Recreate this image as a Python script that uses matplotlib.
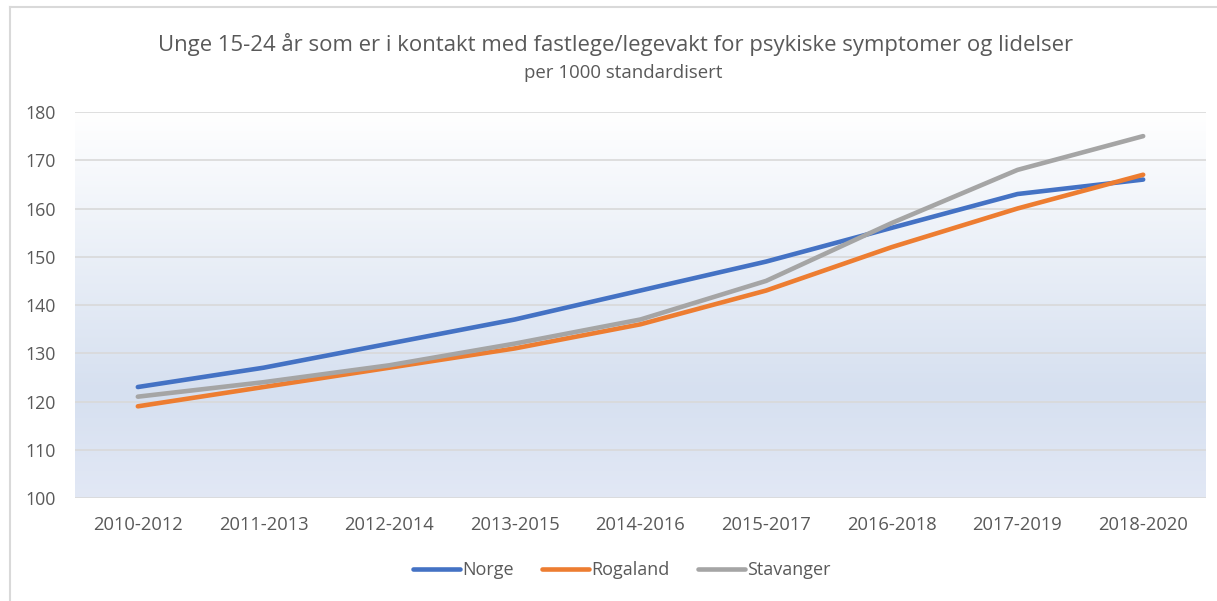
import matplotlib
matplotlib.use("Agg")
import matplotlib.pyplot as plt
import numpy as np
from matplotlib.lines import Line2D

categories = ["2010-2012", "2011-2013", "2012-2014", "2013-2015", "2014-2016",
              "2015-2017", "2016-2018", "2017-2019", "2018-2020"]
norge = [123, 127, 132, 137, 143, 149, 156, 163, 166]
rogaland = [119, 123, 127, 131, 136, 143, 152, 160, 167]
stavanger = [121, 124, 127.5, 132, 137, 145, 157, 168, 175]
yticks = [100, 110, 120, 130, 140, 150, 160, 170, 180]

title1 = "Unge 15-24 år som er i kontakt med fastlege/legevakt for psykiske symptomer og lidelser"
title2 = "per 1000 standardisert"

plt.rcParams['font.family'] = ['Open Sans', 'DejaVu Sans']
txt = "#595959"

fig = plt.figure(figsize=(12.17, 6.01), dpi=100)
ax = fig.add_axes([75/1217, 103/601, (1206-75)/1217, (498-112)/601])

# gradient background
stops_v = np.array([100, 122, 180])
r = np.interp(np.linspace(100, 180, 256), stops_v, [226, 214, 255])
g = np.interp(np.linspace(100, 180, 256), stops_v, [232, 224, 255])
b = np.interp(np.linspace(100, 180, 256), stops_v, [245, 240, 255])
grad = np.stack([r, g, b], axis=1)[:, None, :] / 255.0
ax.imshow(grad, extent=[-0.5, 8.5, 100, 180], origin='lower', aspect='auto', zorder=0)

x = np.arange(len(categories))
ax.plot(x, norge, color="#4472C4", lw=3.3, solid_capstyle='round', label="Norge", zorder=3)
ax.plot(x, rogaland, color="#ED7D31", lw=3.3, solid_capstyle='round', label="Rogaland", zorder=3)
ax.plot(x, stavanger, color="#A5A5A5", lw=3.3, solid_capstyle='round', label="Stavanger", zorder=3)

ax.set_xlim(-0.5, 8.5)
ax.set_ylim(100, 180)
ax.set_yticks(yticks)
ax.set_xticks(x)
ax.set_xticklabels(categories)
for yv in yticks:
    ax.axhline(yv, color="#D9D9D9", lw=1.2, zorder=1)
for s in ax.spines.values():
    s.set_visible(False)
ax.tick_params(axis='y', length=0, labelsize=12.8, colors=txt, pad=14)
ax.tick_params(axis='x', length=0, labelsize=13.2, colors=txt, pad=13)

fig.text(0.506, 1 - 45/601, title1, ha='center', va='center', fontsize=15.9, color=txt)
fig.text(0.512, 1 - 73/601, title2, ha='center', va='center', fontsize=13.4, color=txt)

handles = [Line2D([], [], color=c, lw=3.3, solid_capstyle='round') for c in ["#4472C4", "#ED7D31", "#A5A5A5"]]
fig.legend(handles, ["Norge", "Rogaland", "Stavanger"], loc='center', bbox_to_anchor=(0.511, 1 - 570/601),
           ncol=3, frameon=False, fontsize=13, labelcolor=txt, handlelength=2.6,
           handletextpad=0.1, columnspacing=1.6)

# outer chart border (top and left)
fig.add_artist(Line2D([10/1217, 1.0], [1 - 7/601, 1 - 7/601], color="#D9D9D9", lw=1.5, transform=fig.transFigure))
fig.add_artist(Line2D([10/1217, 10/1217], [0, 1 - 7/601], color="#D9D9D9", lw=1.5, transform=fig.transFigure))

fig.savefig("out.png", dpi=100)
